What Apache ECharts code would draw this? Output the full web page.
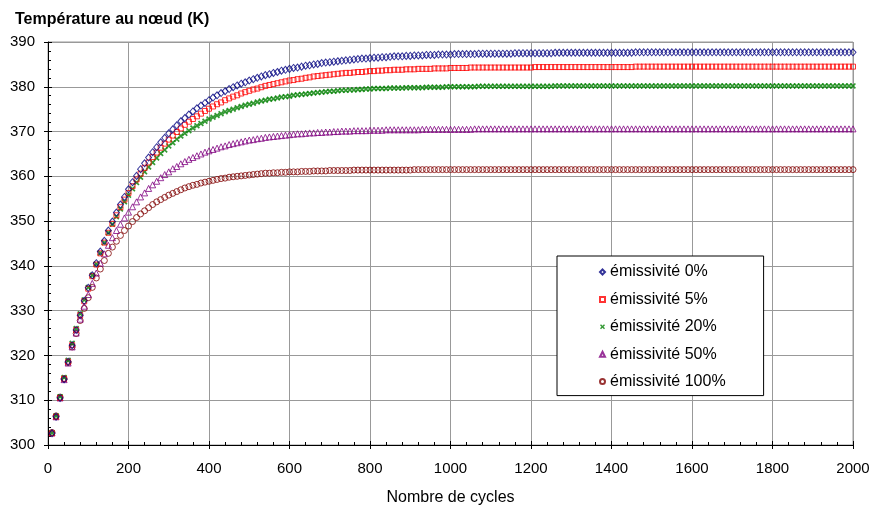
<!DOCTYPE html>
<html>
<head>
<meta charset="utf-8">
<script src="https://cdn.jsdelivr.net/npm/echarts@6/dist/echarts.min.js"></script>
<style>
html,body{margin:0;padding:0;background:#fff;}
#chart{width:873px;height:508px;}
</style>
</head>
<body>
<div id="chart"></div>
<script>
const titleText = 'Température au nœud (K)';
const xName = 'Nombre de cycles';
const seriesNames = ['émissivité 0%', 'émissivité 5%', 'émissivité 20%', 'émissivité 50%', 'émissivité 100%'];

const cycles = [
10,20,30,40,50,60,70,80,90,100,
110,120,130,140,150,160,170,180,190,200,
210,220,230,240,250,260,270,280,290,300,
310,320,330,340,350,360,370,380,390,400,
410,420,430,440,450,460,470,480,490,500,
510,520,530,540,550,560,570,580,590,600,
610,620,630,640,650,660,670,680,690,700,
710,720,730,740,750,760,770,780,790,800,
810,820,830,840,850,860,870,880,890,900,
910,920,930,940,950,960,970,980,990,1000,
1010,1020,1030,1040,1050,1060,1070,1080,1090,1100,
1110,1120,1130,1140,1150,1160,1170,1180,1190,1200,
1210,1220,1230,1240,1250,1260,1270,1280,1290,1300,
1310,1320,1330,1340,1350,1360,1370,1380,1390,1400,
1410,1420,1430,1440,1450,1460,1470,1480,1490,1500,
1510,1520,1530,1540,1550,1560,1570,1580,1590,1600,
1610,1620,1630,1640,1650,1660,1670,1680,1690,1700,
1710,1720,1730,1740,1750,1760,1770,1780,1790,1800,
1810,1820,1830,1840,1850,1860,1870,1880,1890,1900,
1910,1920,1930,1940,1950,1960,1970,1980,1990,2000
];

const emis0 = [
302.6,306.3,310.5,314.7,318.6,322.3,325.7,329.0,332.2,335.1,
337.9,340.6,343.2,345.6,347.9,349.9,351.9,353.7,355.4,357.1,
358.7,360.1,361.6,362.9,364.2,365.4,366.5,367.6,368.6,369.6,
370.5,371.4,372.3,373.0,373.8,374.5,375.2,375.8,376.4,377.0,
377.6,378.1,378.6,379.0,379.5,379.9,380.3,380.7,381.0,381.4,
381.7,382.0,382.3,382.6,382.8,383.1,383.3,383.6,383.8,384.0,
384.2,384.3,384.5,384.7,384.8,385.0,385.1,385.3,385.4,385.5,
385.6,385.7,385.8,385.9,386.0,386.1,386.2,386.3,386.3,386.4,
386.5,386.5,386.6,386.6,386.7,386.8,386.8,386.8,386.9,386.9,
387.0,387.0,387.0,387.1,387.1,387.1,387.2,387.2,387.2,387.2,
387.3,387.3,387.3,387.3,387.3,387.3,387.4,387.4,387.4,387.4,
387.4,387.4,387.4,387.4,387.4,387.5,387.5,387.5,387.5,387.5,
387.5,387.5,387.5,387.5,387.5,387.6,387.6,387.6,387.6,387.6,
387.6,387.6,387.6,387.6,387.6,387.6,387.6,387.6,387.6,387.6,
387.6,387.6,387.6,387.6,387.6,387.7,387.7,387.7,387.7,387.7,
387.7,387.7,387.7,387.7,387.7,387.7,387.7,387.7,387.7,387.7,
387.7,387.7,387.7,387.7,387.7,387.7,387.7,387.7,387.7,387.7,
387.7,387.7,387.7,387.7,387.7,387.7,387.7,387.7,387.7,387.7,
387.7,387.7,387.7,387.7,387.7,387.7,387.7,387.7,387.7,387.7,
387.7,387.7,387.7,387.7,387.7,387.7,387.7,387.7,387.7,387.7
];

const emis5 = [
302.6,306.3,310.5,314.8,318.6,322.3,325.7,329.0,332.1,334.9,
337.7,340.3,342.8,345.2,347.4,349.4,351.3,353.1,354.8,356.3,
357.8,359.3,360.6,361.9,363.1,364.3,365.3,366.4,367.3,368.2,
369.1,369.9,370.7,371.5,372.2,372.8,373.4,374.0,374.6,375.1,
375.6,376.1,376.5,377.0,377.4,377.8,378.1,378.5,378.8,379.1,
379.4,379.6,379.9,380.2,380.4,380.6,380.8,381.0,381.2,381.4,
381.5,381.7,381.8,382.0,382.1,382.3,382.4,382.5,382.6,382.7,
382.8,382.9,383.0,383.1,383.1,383.2,383.3,383.3,383.4,383.5,
383.5,383.6,383.6,383.7,383.7,383.8,383.8,383.8,383.9,383.9,
383.9,384.0,384.0,384.0,384.0,384.1,384.1,384.1,384.1,384.2,
384.2,384.2,384.2,384.2,384.3,384.3,384.3,384.3,384.3,384.3,
384.3,384.3,384.3,384.3,384.3,384.3,384.3,384.3,384.3,384.3,
384.4,384.4,384.4,384.4,384.4,384.4,384.4,384.4,384.4,384.4,
384.4,384.4,384.4,384.4,384.4,384.4,384.4,384.4,384.4,384.4,
384.4,384.4,384.4,384.4,384.4,384.5,384.5,384.5,384.5,384.5,
384.5,384.5,384.5,384.5,384.5,384.5,384.5,384.5,384.5,384.5,
384.5,384.5,384.5,384.5,384.5,384.5,384.5,384.5,384.5,384.5,
384.5,384.5,384.5,384.5,384.5,384.5,384.5,384.5,384.5,384.5,
384.5,384.5,384.5,384.5,384.5,384.5,384.5,384.5,384.5,384.5,
384.5,384.5,384.5,384.5,384.5,384.5,384.5,384.5,384.5,384.5
];

const emis20 = [
302.7,306.5,310.8,315.1,318.9,322.7,326.0,329.3,332.4,335.2,
337.9,340.4,342.9,345.2,347.4,349.3,351.0,352.7,354.3,355.8,
357.2,358.6,359.8,361.0,362.1,363.1,364.1,365.1,365.9,366.8,
367.5,368.3,369.0,369.6,370.2,370.8,371.3,371.8,372.3,372.8,
373.2,373.6,374.0,374.4,374.7,375.0,375.3,375.6,375.9,376.1,
376.3,376.6,376.8,377.0,377.2,377.3,377.5,377.7,377.8,377.9,
378.1,378.2,378.3,378.4,378.5,378.6,378.7,378.8,378.9,379.0,
379.0,379.1,379.2,379.2,379.3,379.3,379.4,379.4,379.5,379.5,
379.6,379.6,379.6,379.6,379.7,379.7,379.7,379.7,379.8,379.8,
379.8,379.8,379.8,379.9,379.9,379.9,379.9,379.9,380.0,380.0,
380.0,380.0,380.0,380.0,380.0,380.0,380.1,380.1,380.1,380.1,
380.1,380.1,380.1,380.1,380.1,380.1,380.1,380.1,380.1,380.1,
380.1,380.1,380.1,380.1,380.1,380.2,380.2,380.2,380.2,380.2,
380.2,380.2,380.2,380.2,380.2,380.2,380.2,380.2,380.2,380.2,
380.2,380.2,380.2,380.2,380.2,380.2,380.2,380.2,380.2,380.2,
380.2,380.2,380.2,380.2,380.2,380.2,380.2,380.2,380.2,380.2,
380.2,380.2,380.2,380.2,380.2,380.2,380.2,380.2,380.2,380.2,
380.2,380.2,380.2,380.2,380.2,380.2,380.2,380.2,380.2,380.2,
380.2,380.2,380.2,380.2,380.2,380.2,380.2,380.2,380.2,380.2,
380.2,380.2,380.2,380.2,380.2,380.2,380.2,380.2,380.2,380.2
];

const emis50 = [
302.7,306.3,310.5,314.6,318.3,321.9,325.0,328.1,331.0,333.6,
336.1,338.4,340.6,342.7,344.6,346.3,347.9,349.3,350.7,352.0,
353.2,354.3,355.4,356.3,357.3,358.1,358.9,359.7,360.4,361.0,
361.7,362.2,362.8,363.3,363.8,364.2,364.6,365.0,365.4,365.7,
366.0,366.3,366.6,366.8,367.1,367.3,367.5,367.7,367.9,368.1,
368.2,368.4,368.5,368.7,368.8,368.9,369.0,369.1,369.2,369.3,
369.4,369.5,369.5,369.6,369.7,369.7,369.8,369.8,369.9,369.9,
370.0,370.0,370.1,370.1,370.1,370.2,370.2,370.2,370.2,370.3,
370.3,370.3,370.3,370.4,370.4,370.4,370.4,370.4,370.4,370.4,
370.4,370.4,370.5,370.5,370.5,370.5,370.5,370.5,370.5,370.5,
370.5,370.5,370.5,370.5,370.5,370.6,370.6,370.6,370.6,370.6,
370.6,370.6,370.6,370.6,370.6,370.6,370.6,370.6,370.6,370.6,
370.6,370.6,370.6,370.6,370.6,370.6,370.6,370.6,370.6,370.6,
370.6,370.6,370.6,370.6,370.6,370.6,370.6,370.6,370.6,370.6,
370.6,370.6,370.6,370.6,370.6,370.6,370.6,370.6,370.6,370.6,
370.6,370.6,370.6,370.6,370.6,370.6,370.6,370.6,370.6,370.6,
370.6,370.6,370.6,370.6,370.6,370.6,370.6,370.6,370.6,370.6,
370.6,370.6,370.6,370.6,370.6,370.6,370.6,370.6,370.6,370.6,
370.6,370.6,370.6,370.6,370.6,370.6,370.6,370.6,370.6,370.6,
370.6,370.6,370.6,370.6,370.6,370.6,370.6,370.6,370.6,370.6
];

const emis100 = [
302.8,306.5,310.7,314.8,318.4,321.9,324.9,327.8,330.5,332.9,
335.2,337.3,339.3,341.2,342.8,344.2,345.5,346.8,347.9,348.9,
349.9,350.8,351.6,352.3,353.0,353.7,354.3,354.8,355.3,355.8,
356.2,356.6,357.0,357.4,357.7,358.0,358.2,358.5,358.7,358.9,
359.1,359.3,359.5,359.6,359.8,359.9,360.0,360.1,360.2,360.3,
360.4,360.5,360.6,360.7,360.7,360.8,360.8,360.9,360.9,361.0,
361.0,361.0,361.1,361.1,361.1,361.2,361.2,361.2,361.2,361.3,
361.3,361.3,361.3,361.3,361.3,361.4,361.4,361.4,361.4,361.4,
361.4,361.4,361.4,361.4,361.4,361.4,361.4,361.4,361.4,361.4,
361.5,361.5,361.5,361.5,361.5,361.5,361.5,361.5,361.5,361.5,
361.5,361.5,361.5,361.5,361.5,361.5,361.5,361.5,361.5,361.5,
361.5,361.5,361.5,361.5,361.5,361.5,361.5,361.5,361.5,361.5,
361.5,361.5,361.5,361.5,361.5,361.5,361.5,361.5,361.5,361.5,
361.5,361.5,361.5,361.5,361.5,361.5,361.5,361.5,361.5,361.5,
361.5,361.5,361.5,361.5,361.5,361.5,361.5,361.5,361.5,361.5,
361.5,361.5,361.5,361.5,361.5,361.5,361.5,361.5,361.5,361.5,
361.5,361.5,361.5,361.5,361.5,361.5,361.5,361.5,361.5,361.5,
361.5,361.5,361.5,361.5,361.5,361.5,361.5,361.5,361.5,361.5,
361.5,361.5,361.5,361.5,361.5,361.5,361.5,361.5,361.5,361.5,
361.5,361.5,361.5,361.5,361.5,361.5,361.5,361.5,361.5,361.5
];

const FONT = '"Liberation Sans", Arial, sans-serif';
const X_SYMBOL = 'path://M0,2L2,0L5,3L8,0L10,2L7,5L10,8L8,10L5,7L2,10L0,8L3,5Z';

const styles = [
  {symbol: 'diamond', size: [6, 7], color: '#000080', hollow: true},
  {symbol: 'rect', size: 5, color: '#ff0000', hollow: true},
  {symbol: X_SYMBOL, size: 6, color: '#008000', hollow: false},
  {symbol: 'triangle', size: 6, color: '#800080', hollow: true},
  {symbol: 'circle', size: 6, color: '#800000', hollow: true}
];
const allValues = [emis0, emis5, emis20, emis50, emis100];

const series = allValues.map((vals, si) => {
  const st = styles[si];
  return {
    name: seriesNames[si],
    type: 'scatter',
    xAxisIndex: 0,
    yAxisIndex: 0,
    symbol: st.symbol,
    symbolSize: st.size,
    data: cycles.map((c, i) => [c, vals[i]]),
    itemStyle: st.hollow
      ? {color: 'rgba(255,255,255,0)', borderColor: st.color, borderWidth: 1}
      : {color: st.color, borderWidth: 0},
    emphasis: {disabled: true},
    z: 10 - si
  };
});

const plainNumber = v => String(v);

const chart = echarts.init(document.getElementById('chart'), null, {renderer: 'canvas'});
chart.setOption({
  animation: false,
  backgroundColor: '#fff',
  textStyle: {fontFamily: FONT},
  title: {
    text: titleText,
    left: 15, top: 12, padding: 0,
    textStyle: {fontSize: 16, fontWeight: 'bold', color: '#000', fontFamily: FONT}
  },
  grid: {
    left: 48, right: 20, top: 42, bottom: 63,
    containLabel: false,
    outerBoundsMode: 'none',
    show: true, borderColor: '#999', borderWidth: 1, backgroundColor: 'transparent'
  },
  legend: {
    orient: 'vertical',
    left: 557, top: 256,
    padding: [8, 38, 6, 42],
    itemGap: 11.4,
    itemWidth: 5, itemHeight: 5,
    backgroundColor: '#fff',
    borderColor: '#000', borderWidth: 1,
    textStyle: {fontSize: 16, color: '#000', fontFamily: FONT, lineHeight: 16},
    data: seriesNames,
    selectedMode: false
  },
  xAxis: [
    {
      type: 'value', min: 0, max: 2000, interval: 200,
      position: 'bottom',
      name: xName, nameLocation: 'middle', nameGap: 45,
      nameTextStyle: {fontSize: 16, color: '#000', fontFamily: FONT},
      axisLine: {show: true, onZero: false, lineStyle: {color: '#000', width: 1}},
      axisTick: {show: true, inside: false, length: 4, lineStyle: {color: '#000'}},
      axisLabel: {fontSize: 15, color: '#000', margin: 16, fontFamily: FONT, formatter: plainNumber},
      splitLine: {show: true, lineStyle: {color: '#999', width: 1}}
    },
    {
      type: 'value', min: 0, max: 2000, interval: 200,
      position: 'bottom',
      axisLine: {show: false},
      axisTick: {show: true, inside: true, length: 4, lineStyle: {color: '#000'}},
      minorTick: {show: true, splitNumber: 5, length: 3, lineStyle: {color: '#000'}},
      axisLabel: {show: false},
      splitLine: {show: false}
    }
  ],
  yAxis: [
    {
      type: 'value', min: 300, max: 390, interval: 10,
      position: 'left',
      axisLine: {show: true, onZero: false, lineStyle: {color: '#000', width: 1}},
      axisTick: {show: true, inside: false, length: 4, lineStyle: {color: '#000'}},
      axisLabel: {fontSize: 15, color: '#000', margin: 13, fontFamily: FONT, formatter: plainNumber},
      splitLine: {show: true, lineStyle: {color: '#999', width: 1}}
    },
    {
      type: 'value', min: 300, max: 390, interval: 10,
      position: 'left',
      axisLine: {show: false},
      axisTick: {show: true, inside: true, length: 4, lineStyle: {color: '#000'}},
      minorTick: {show: true, splitNumber: 5, length: 3, lineStyle: {color: '#000'}},
      axisLabel: {show: false},
      splitLine: {show: false}
    }
  ],
  series: series
});
</script>
</body>
</html>
